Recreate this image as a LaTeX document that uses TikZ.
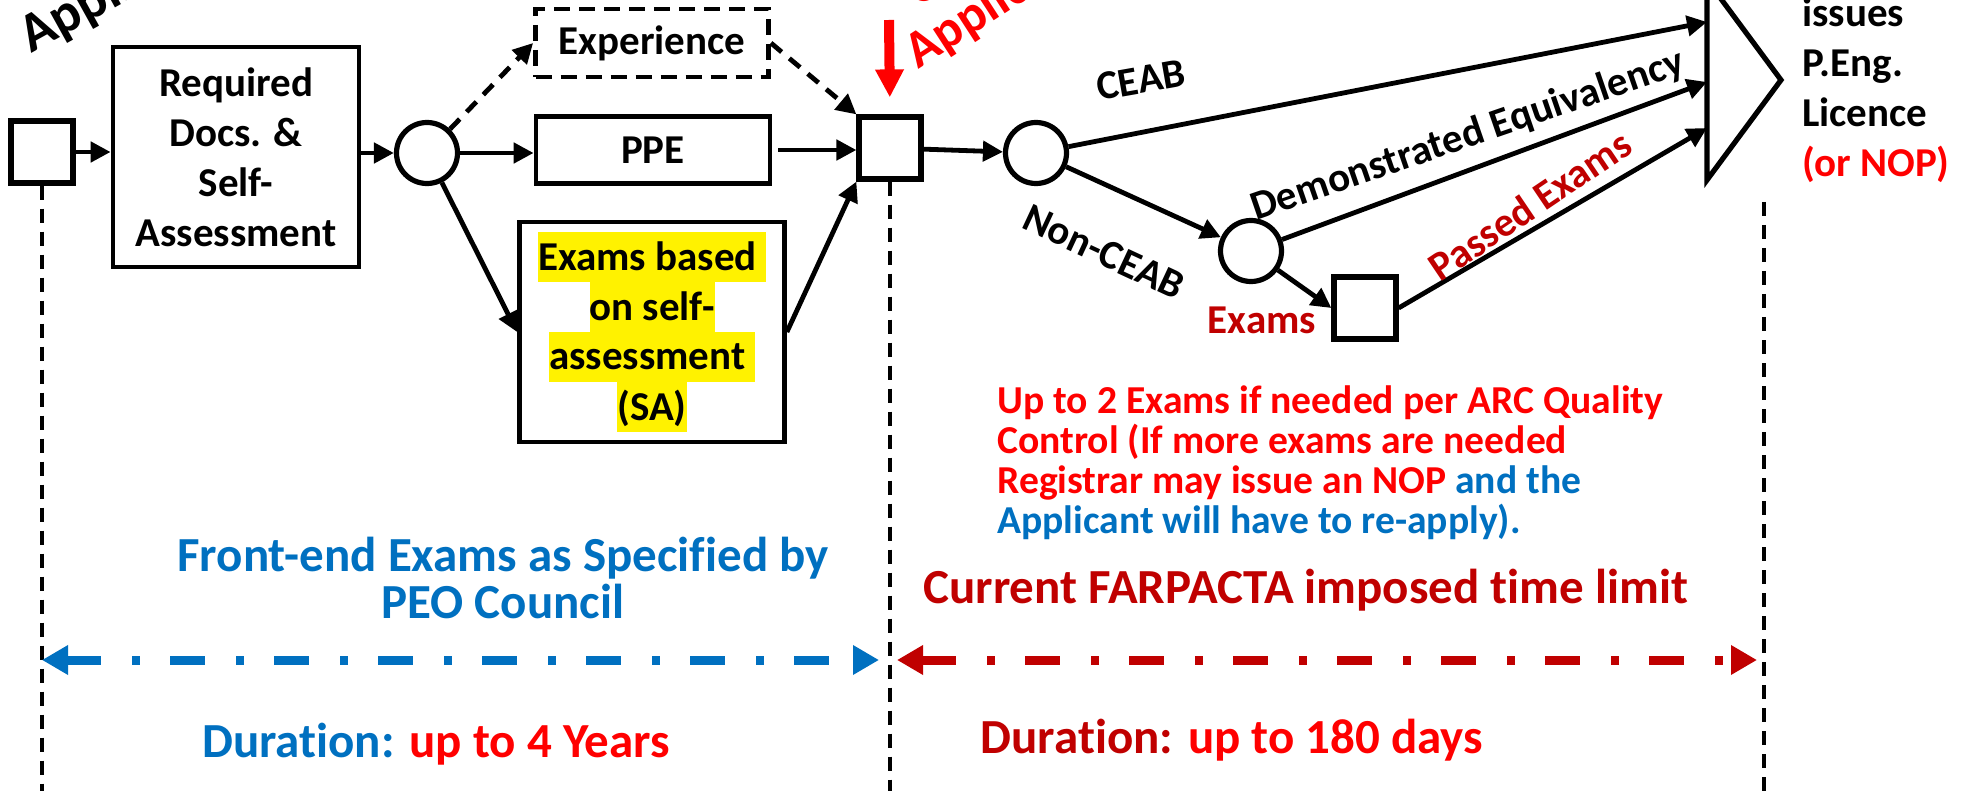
\documentclass[tikz,border=0pt]{standalone}
\usepackage{fontspec}
\setmainfont{Carlito}[Ligatures=NoCommon]
\usetikzlibrary{arrows.meta}
\definecolor{peoblue}{HTML}{0070C0}
\definecolor{peored}{HTML}{C00000}
\newcommand{\hlline}[1]{{\setlength{\fboxsep}{0pt}\colorbox{yellow}{\rule[-6pt]{0pt}{25pt}#1}}}
\tikzset{
  stage/.style={draw, line width=2.4pt, inner sep=0pt, align=center, font=\bfseries\fontsize{20.5}{25}\selectfont},
  gate/.style={draw, circle, line width=2.6pt, minimum size=30.5pt, inner sep=0pt},
  stop/.style={draw, line width=2.6pt, minimum size=31pt, inner sep=0pt},
  flow/.style={line width=2.4pt, -{Triangle[length=10pt,width=10pt]}},
  maybe/.style={flow, dash pattern=on 7pt off 5pt},
  guide/.style={line width=1.7pt, dash pattern=on 7pt off 4.5pt},
  span/.style={line width=4.5pt, dash pattern=on 17.5pt off 15.5pt on 4pt off 15pt,
    {Triangle[length=13pt,width=14pt]}-{Triangle[length=13pt,width=14pt]}},
  lbl/.style={font=\bfseries\fontsize{20.5}{25}\selectfont, inner sep=0pt},
  big/.style={font=\bfseries\fontsize{24.5}{23.5}\selectfont, inner sep=0pt, align=center},
  note/.style={font=\bfseries\fontsize{19.8}{20}\selectfont, inner sep=0pt, align=left}
}

\begin{document}
\begin{tikzpicture}[x=0.5pt,y=-0.5pt]
  \useasboundingbox (0,0) rectangle (1976,791);

  \node[stop] (start) at (42,152) {};
  \node[stage, minimum width=123pt, minimum height=110pt] (req) at (236,157) {Required\\Docs. \&\\Self-\\Assessment};
  \node[gate] (c1) at (427,153) {};
  \node[stage, dash pattern=on 8pt off 4.5pt, minimum width=116.5pt, minimum height=34pt] (exp) at (652,43) {Experience};
  \node[stage, minimum width=117pt, minimum height=33.5pt] (ppe) at (653,150) {PPE};
  \node[stage, minimum width=132.5pt, minimum height=110pt] (exams) at (652,332)
    {\hlline{Exams based }\\\hlline{on self-}\\\hlline{assessment }\\\hlline{(SA)}};
  \node[stop] (sq2) at (890,148) {};
  \node[gate] (c2) at (1036,153) {};
  \node[gate] (c3) at (1251,251) {};
  \node[stop] (sq3) at (1365,308) {};

  \draw[line width=2.6pt, line join=miter] (1707,-20) -- (1781,80) -- (1707,180) -- cycle;
  \coordinate (t1) at (1707,22);
  \coordinate (t2) at (1707,82);
  \coordinate (t3) at (1707,128);

  \draw[flow] (start) -- (req.west |- start);
  \draw[flow] (req.east |- c1) -- (c1);
  \draw[maybe] (c1) -- (exp.west);
  \draw[flow] (c1) -- (ppe.west |- c1);
  \draw[flow] (c1) -- (exams.west);
  \draw[maybe] (exp.east) -- (sq2.north west);
  \draw[flow, shorten <=3pt] (ppe.east) -- (sq2.west |- ppe);
  \draw[flow] (exams.east) -- (sq2.south west);
  \draw[flow] (sq2) -- (c2);
  \draw[flow] (c2) -- (c3);
  \draw[flow] (c3) -- (sq3.west);
  \draw[flow] (c2) -- (t1);
  \draw[flow] (c3) -- (t2);
  \draw[flow] (sq3.east) -- (t3);

  \coordinate (sub) at (889,20);
  \draw[line width=5pt, red, -{Triangle[length=14pt,width=13.5pt]}, shorten >=8.5pt] (sub) -- (sq2.north);

  \node[lbl, rotate=10] (ceab) at (1141,80) {CEAB};
  \node[lbl, rotate=-25] (nonceab) at (1104,252) {Non-CEAB};
  \node[lbl, rotate=19] (demo) at (1468,136) {Demonstrated Equivalency};
  \node[lbl, rotate=34, text=peored] (passed) at (1530,205) {Passed Exams};
  \node[lbl, text=peored] (exlbl) at (1262,320) {Exams};
  \node[lbl, align=left, anchor=base west] (issue) at (1802,177) {issues\\P.Eng.\\Licence\\\textcolor{red}{(or NOP)}};

  \node[font=\bfseries\fontsize{27.5}{30}\selectfont, inner sep=0pt, anchor=base west, rotate=29] (apply) at (31,54) {Application};
  \node[font=\bfseries\fontsize{26}{28}\selectfont, inner sep=0pt, anchor=base west, rotate=33, text=red] (applied) at (918,70) {Application};
  \node[font=\bfseries\fontsize{26}{28}\selectfont, inner sep=0pt, anchor=base west, rotate=33, text=red] (compl) at (918,8) {Complete};

  \node[note, text=red, anchor=base west] (rule) at (997,533)
    {Up to 2 Exams if needed per ARC Quality\\Control (If more exams are needed\\Registrar may issue an NOP \textcolor{peoblue}{and the}\\\textcolor{peoblue}{Applicant will have to re-apply).}};

  \coordinate (bot) at (0,791);
  \draw[guide] (start.south) -- (start.south |- bot);
  \draw[guide] (sq2.south) -- (sq2.south |- bot);
  \coordinate (gtop) at (1764,202);
  \draw[guide] (gtop) -- (gtop |- bot);

  \node[big, text=peoblue, anchor=base] (front) at (503,618) {Front-end Exams as Specified by\\PEO Council};
  \node[big, text=peored, anchor=base] (farpacta) at (1306,603) {Current FARPACTA imposed time limit};

  \coordinate (sp) at (0,660);
  \draw[span, peoblue] (start |- sp) -- ([xshift=-5.5pt]sq2 |- sp);
  \draw[span, peored] ([xshift=3.5pt]sq2 |- sp) -- ([xshift=-3.5pt]gtop |- sp);

  \node[big, anchor=base] (dur1) at (436,757) {\textcolor{peoblue}{Duration:} \textcolor{red}{up to 4 Years}};
  \node[big, anchor=base] (dur2) at (1232,753) {\textcolor{peored}{Duration:} \textcolor{red}{up to 180 days}};
\end{tikzpicture}
\end{document}
